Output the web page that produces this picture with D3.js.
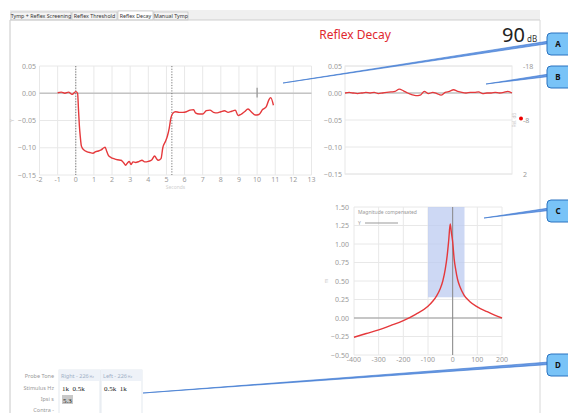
<!DOCTYPE html>
<html>
<head>
<meta charset="utf-8">
<script src="https://cdn.jsdelivr.net/npm/d3@7"></script>
<style>
  body { margin: 0; background: #fff; }
  svg { display: block; font-family: "Noto Sans", "DejaVu Sans", sans-serif; }
</style>
</head>
<body>
<div id="chart"></div>
<script>
// ---- data ----
const tabs = ["Tymp + Reflex Screening", "Reflex Threshold", "Reflex Decay", "Manual Tymp"];
const decaySeconds = [-1, -0.8, -0.6, -0.4, -0.2, 0, 0.1, 0.15, 0.2, 0.25, 0.3, 0.35, 0.45, 0.6, 0.8, 0.95, 1.1, 1.25, 1.4, 1.55, 1.62, 1.7, 1.8, 1.95, 2.1, 2.3, 2.5, 2.65, 2.75, 2.85, 2.95, 3.05, 3.15, 3.3, 3.5, 3.65, 3.8, 4.0, 4.2, 4.35, 4.45, 4.55, 4.7, 4.8, 4.95, 5.05, 5.15, 5.25, 5.35, 5.5, 5.7, 5.9, 6.1, 6.3, 6.5, 6.6, 6.8, 7.0, 7.2, 7.4, 7.6, 7.8, 8.0, 8.2, 8.4, 8.6, 8.8, 8.95, 9.1, 9.3, 9.5, 9.7, 9.9, 10.1, 10.3, 10.5, 10.65, 10.75, 10.9];
const decayValues = [0.001, 0.002, 0.0, 0.002, -0.002, 0.003, 0.0, -0.03, -0.06, -0.08, -0.095, -0.1, -0.104, -0.107, -0.109, -0.11, -0.107, -0.106, -0.104, -0.1, -0.099, -0.106, -0.114, -0.118, -0.12, -0.122, -0.123, -0.128, -0.132, -0.128, -0.125, -0.131, -0.126, -0.127, -0.125, -0.123, -0.126, -0.125, -0.122, -0.115, -0.12, -0.123, -0.12, -0.1, -0.088, -0.079, -0.065, -0.045, -0.037, -0.034, -0.035, -0.035, -0.034, -0.031, -0.03, -0.036, -0.038, -0.038, -0.032, -0.031, -0.035, -0.036, -0.034, -0.032, -0.035, -0.033, -0.031, -0.041, -0.039, -0.034, -0.029, -0.035, -0.04, -0.039, -0.03, -0.025, -0.012, -0.008, -0.022];
const stimulusMarks = [0, 5.3];
const cursorSecond = 10;

const baselineValues = [0.0, 0.001, 0.0, -0.001, 0.0, 0.001, 0.0, 0.001, -0.001, 0.0, 0.001, 0.002, 0.003, 0.007, 0.004, 0.0, -0.003, -0.005, -0.004, 0.003, -0.001, 0.001, -0.001, -0.004, 0.001, 0.003, 0.006, 0.003, 0.001, 0.0, 0.001, 0.001, 0.002, -0.001, 0.0, 0.0, 0.001, 0.0, 0.001, 0.003, 0.0];
const relDb = -8.3;

const freqOffsets = [-400, -350, -300, -250, -200, -150, -100, -80, -65, -50, -40, -30, -22, -16, -10, -5, 0, 6, 12, 20, 30, 46, 70, 100, 140, 170, 200];
const magnitudes = [-0.26, -0.21, -0.16, -0.1, -0.035, 0.05, 0.16, 0.23, 0.3, 0.4, 0.5, 0.66, 0.85, 1.05, 1.27, 1.15, 1.03, 0.8, 0.66, 0.52, 0.42, 0.31, 0.22, 0.15, 0.085, 0.04, 0.0];
const bandFrom = -100, bandTo = 48, bandLow = 0.28;

const tableRows = ["Probe Tone", "Stimulus Hz", "Ipsi s", "Contra -"];
const tableCols = [
  { head: "Right - 226", stim: ["1k", "0.5k"], ipsi: "5.3" },
  { head: "Left - 226", stim: ["0.5k", "1k"], ipsi: "" }
];

const callouts = [
  { label: "A", from: [283, 83], boxY: 44 },
  { label: "B", from: [486, 84], boxY: 77 },
  { label: "C", from: [484, 218], boxY: 211 },
  { label: "D", from: [143, 393], boxY: 365 }
];

// ---- drawing ----
const W = 568, H = 413;
const svg = d3.select("#chart").append("svg").attr("width", W).attr("height", H);

const red = "#e5383b", grid = "#e8e8e8", tickCol = "#9a9a9a";

// tab bar + panel frame
svg.append("rect").attr("x", 10).attr("y", 10).attr("width", 530).attr("height", 10).attr("fill", "#f0f0f0");
let tx = 11;
const tabWidths = [60, 45, 35, 34];
tabs.forEach((t, i) => {
  const active = t === "Reflex Decay";
  svg.append("rect").attr("x", tx).attr("y", active ? 11 : 12).attr("width", tabWidths[i]).attr("height", active ? 9 : 8)
    .attr("fill", active ? "#fff" : "#f4f4f4").attr("stroke", "#b8b8b8").attr("stroke-width", 0.6);
  svg.append("text").attr("x", tx + tabWidths[i] / 2).attr("y", 18).attr("text-anchor", "middle")
    .attr("font-size", 5.3).attr("fill", "#333").text(t);
  tx += tabWidths[i] + 1;
});
svg.append("line").attr("x1", 10).attr("x2", 540).attr("y1", 20).attr("y2", 20).attr("stroke", "#cfcfcf");
svg.append("line").attr("x1", 10).attr("x2", 10).attr("y1", 20).attr("y2", H).attr("stroke", "#c8c8c8");
svg.append("line").attr("x1", 540).attr("x2", 540).attr("y1", 20).attr("y2", H).attr("stroke", "#d8d8d8");

svg.append("text").attr("x", 355).attr("y", 39).attr("text-anchor", "middle")
  .attr("font-size", 12).attr("fill", "#e0282e").text("Reflex Decay");
svg.append("text").attr("x", 525).attr("y", 42).attr("text-anchor", "end")
  .attr("font-size", 20).attr("fill", "#222").text("90");
svg.append("text").attr("x", 527).attr("y", 42).attr("font-size", 8).attr("fill", "#333").text("dB");

function yAxisLabels(g, y, ticks, x, fmt) {
  g.selectAll(null).data(ticks).enter().append("text")
    .attr("x", x).attr("y", d => y(d) + 2.5).attr("text-anchor", "end")
    .attr("font-size", 7).attr("fill", tickCol).text(fmt);
}

// ---- left chart: decay ----
const xL = d3.scaleLinear().domain([-2, 13]).range([39.5, 311.5]);
const yL = d3.scaleLinear().domain([-0.15, 0.05]).range([175, 66]);
const gL = svg.append("g");
const yTicks = [-0.15, -0.1, -0.05, 0, 0.05];
gL.selectAll(null).data(d3.range(-2, 14)).enter().append("line")
  .attr("x1", d => xL(d)).attr("x2", d => xL(d)).attr("y1", yL(0.05)).attr("y2", yL(-0.15))
  .attr("stroke", grid);
gL.selectAll(null).data(yTicks).enter().append("line")
  .attr("x1", xL(-2)).attr("x2", xL(13)).attr("y1", d => yL(d)).attr("y2", d => yL(d))
  .attr("stroke", grid);
gL.append("line").attr("x1", xL(-2)).attr("x2", xL(13)).attr("y1", yL(0)).attr("y2", yL(0))
  .attr("stroke", "#c4c4c4").attr("stroke-width", 1.5);
yAxisLabels(gL, yL, yTicks, 36, d3.format(".2f"));
gL.selectAll(null).data(d3.range(-2, 14)).enter().append("text")
  .attr("x", d => xL(d)).attr("y", 182).attr("text-anchor", "middle")
  .attr("font-size", 7).attr("fill", tickCol).text(d => d);
gL.append("text").attr("x", xL(5.5)).attr("y", 189).attr("text-anchor", "middle")
  .attr("font-size", 5).attr("fill", "#d0d0d0").text("Seconds");
gL.append("text").attr("transform", `translate(14,${yL(-0.05)}) rotate(-90)`).attr("text-anchor", "middle")
  .attr("font-size", 5).attr("fill", "#c8c8c8").text("Y");
gL.selectAll(null).data(stimulusMarks).enter().append("line")
  .attr("x1", d => xL(d)).attr("x2", d => xL(d)).attr("y1", yL(0.05)).attr("y2", yL(-0.15))
  .attr("stroke", "#777").attr("stroke-dasharray", "1.2,1.5");
gL.append("line").attr("x1", xL(cursorSecond)).attr("x2", xL(cursorSecond))
  .attr("y1", yL(0.01)).attr("y2", yL(-0.008)).attr("stroke", "#999").attr("stroke-width", 1.3);
const lineL = d3.line().x((d, i) => xL(decaySeconds[i])).y(d => yL(d)).curve(d3.curveMonotoneX);
gL.append("path").attr("d", lineL(decayValues)).attr("fill", "none").attr("stroke", red).attr("stroke-width", 1.4);

// ---- right top chart: baseline ----
const xR = d3.scaleLinear().domain([0, baselineValues.length - 1]).range([345, 512]);
const yR = d3.scaleLinear().domain([-0.15, 0.05]).range([174, 66]);
const yDb = d3.scaleLinear().domain([2, -18]).range([174, 66]);
const gR = svg.append("g");
gR.selectAll(null).data(yTicks).enter().append("line")
  .attr("x1", 345).attr("x2", 512).attr("y1", d => yR(d)).attr("y2", d => yR(d)).attr("stroke", grid);
gR.append("rect").attr("x", 345).attr("y", 66).attr("width", 167).attr("height", 108)
  .attr("fill", "none").attr("stroke", grid);
gR.append("line").attr("x1", 345).attr("x2", 512).attr("y1", yR(0)).attr("y2", yR(0))
  .attr("stroke", "#c4c4c4").attr("stroke-width", 1.5);
yAxisLabels(gR, yR, yTicks, 342, d3.format(".2f"));
gR.selectAll(null).data([-18, -8, 2]).enter().append("text")
  .attr("x", 523).attr("y", d => yDb(d) + 2.5).attr("font-size", 7).attr("fill", tickCol).text(d => d);
gR.append("text").attr("transform", `translate(516,${yDb(-8)}) rotate(-90)`).attr("text-anchor", "middle")
  .attr("font-size", 4.5).attr("fill", "#c8c8c8").text("Rel. dB");
gR.append("circle").attr("cx", 521).attr("cy", yDb(relDb)).attr("r", 2).attr("fill", "#e00");
const lineR = d3.line().x((d, i) => xR(i)).y(d => yR(d)).curve(d3.curveMonotoneX);
gR.append("path").attr("d", lineR(baselineValues)).attr("fill", "none").attr("stroke", red).attr("stroke-width", 1.3);

// ---- bottom chart: tymp magnitude ----
const xB = d3.scaleLinear().domain([-400, 200]).range([354, 502]);
const yB = d3.scaleLinear().domain([-0.5, 1.5]).range([355, 207]);
const gB = svg.append("g");
const bTicksY = d3.range(-0.5, 1.51, 0.25);
const bTicksX = d3.range(-400, 201, 100);
gB.selectAll(null).data(bTicksX).enter().append("line")
  .attr("x1", d => xB(d)).attr("x2", d => xB(d)).attr("y1", yB(1.5)).attr("y2", yB(-0.5)).attr("stroke", grid);
gB.selectAll(null).data(bTicksY).enter().append("line")
  .attr("x1", xB(-400)).attr("x2", xB(200)).attr("y1", d => yB(d)).attr("y2", d => yB(d)).attr("stroke", grid);
gB.append("rect").attr("x", xB(bandFrom)).attr("y", yB(1.5)).attr("width", xB(bandTo) - xB(bandFrom))
  .attr("height", yB(bandLow) - yB(1.5)).attr("fill", "#bccbf0").attr("opacity", 0.75);
gB.append("line").attr("x1", xB(-400)).attr("x2", xB(200)).attr("y1", yB(0)).attr("y2", yB(0))
  .attr("stroke", "#999").attr("stroke-width", 1);
gB.append("line").attr("x1", xB(0)).attr("x2", xB(0)).attr("y1", yB(1.5)).attr("y2", yB(-0.5))
  .attr("stroke", "#888").attr("stroke-width", 1);
yAxisLabels(gB, yB, bTicksY, 349, d3.format(".2f"));
gB.selectAll(null).data(bTicksX).enter().append("text")
  .attr("x", d => xB(d)).attr("y", 362).attr("text-anchor", "middle")
  .attr("font-size", 7).attr("fill", tickCol).text(d => d);
gB.append("text").attr("transform", `translate(328,${yB(0.5)}) rotate(-90)`).attr("text-anchor", "middle")
  .attr("font-size", 5).attr("fill", "#c8c8c8").text("m");
gB.append("text").attr("x", 358).attr("y", 214).attr("font-size", 5).attr("fill", "#999").text("Magnitude compensated");
gB.append("text").attr("x", 358).attr("y", 225).attr("font-size", 5).attr("fill", "#999").text("Y");
gB.append("line").attr("x1", 365).attr("x2", 398).attr("y1", 223).attr("y2", 223).attr("stroke", "#999").attr("stroke-width", 1.2);
const lineB = d3.line().x((d, i) => xB(freqOffsets[i])).y(d => yB(d)).curve(d3.curveMonotoneX);
gB.append("path").attr("d", lineB(magnitudes)).attr("fill", "none").attr("stroke", red).attr("stroke-width", 1.4);

// ---- bottom-left table ----
const rowY = [378, 390, 401, 412];
const gT = svg.append("g");
gT.selectAll(null).data(tableRows).enter().append("text")
  .attr("x", 54).attr("y", (d, i) => rowY[i]).attr("text-anchor", "end")
  .attr("font-size", 5.5).attr("fill", "#999").text(d => d);
tableCols.forEach((c, i) => {
  const x0 = 59 + i * 42;
  gT.append("rect").attr("x", x0).attr("y", 370).attr("width", 41).attr("height", 50)
    .attr("fill", "#fff").attr("stroke", "#dde3ea").attr("stroke-width", 0.8);
  gT.append("rect").attr("x", x0).attr("y", 370).attr("width", 41).attr("height", 11).attr("fill", "#eef2f8");
  gT.append("text").attr("x", x0 + 2).attr("y", 378).attr("font-size", 5.5).attr("fill", "#9fb0c6")
    .text(c.head).append("tspan").attr("font-size", 3.5).text(" Hz");
  gT.append("text").attr("x", x0 + 3).attr("y", 391).attr("font-size", 7)
    .attr("font-family", "Liberation Serif, serif").attr("fill", "#222")
    .attr("xml:space", "preserve").text(c.stim.join("  "));
  if (c.ipsi) {
    gT.append("rect").attr("x", x0 + 3).attr("y", 395).attr("width", 11).attr("height", 9).attr("fill", "#c8c8c8");
    gT.append("text").attr("x", x0 + 4).attr("y", 402.5).attr("font-size", 7)
      .attr("font-family", "Liberation Serif, serif").attr("fill", "#222").text(c.ipsi);
  }
});

// ---- callouts ----
const boxX = 547;
callouts.forEach(c => {
  const [fx, fy] = c.from;
  const ex = boxX + 2;
  svg.append("path")
    .attr("d", `M${fx},${fy} L${ex},${c.boxY - 3} L${ex},${c.boxY - 0.5} Z`)
    .attr("fill", "#6a9ae4").attr("stroke", "#3370cc").attr("stroke-width", 0.6);
  svg.append("rect").attr("x", boxX).attr("y", c.boxY - 11).attr("width", 26).attr("height", 22).attr("rx", 4)
    .attr("fill", "#79c3f7").attr("stroke", "#2a72c0").attr("stroke-width", 1);
  svg.append("text").attr("x", boxX + 11).attr("y", c.boxY + 3).attr("text-anchor", "middle")
    .attr("font-size", 8).attr("font-weight", "bold").attr("fill", "#111").text(c.label);
});
</script>
</body>
</html>
